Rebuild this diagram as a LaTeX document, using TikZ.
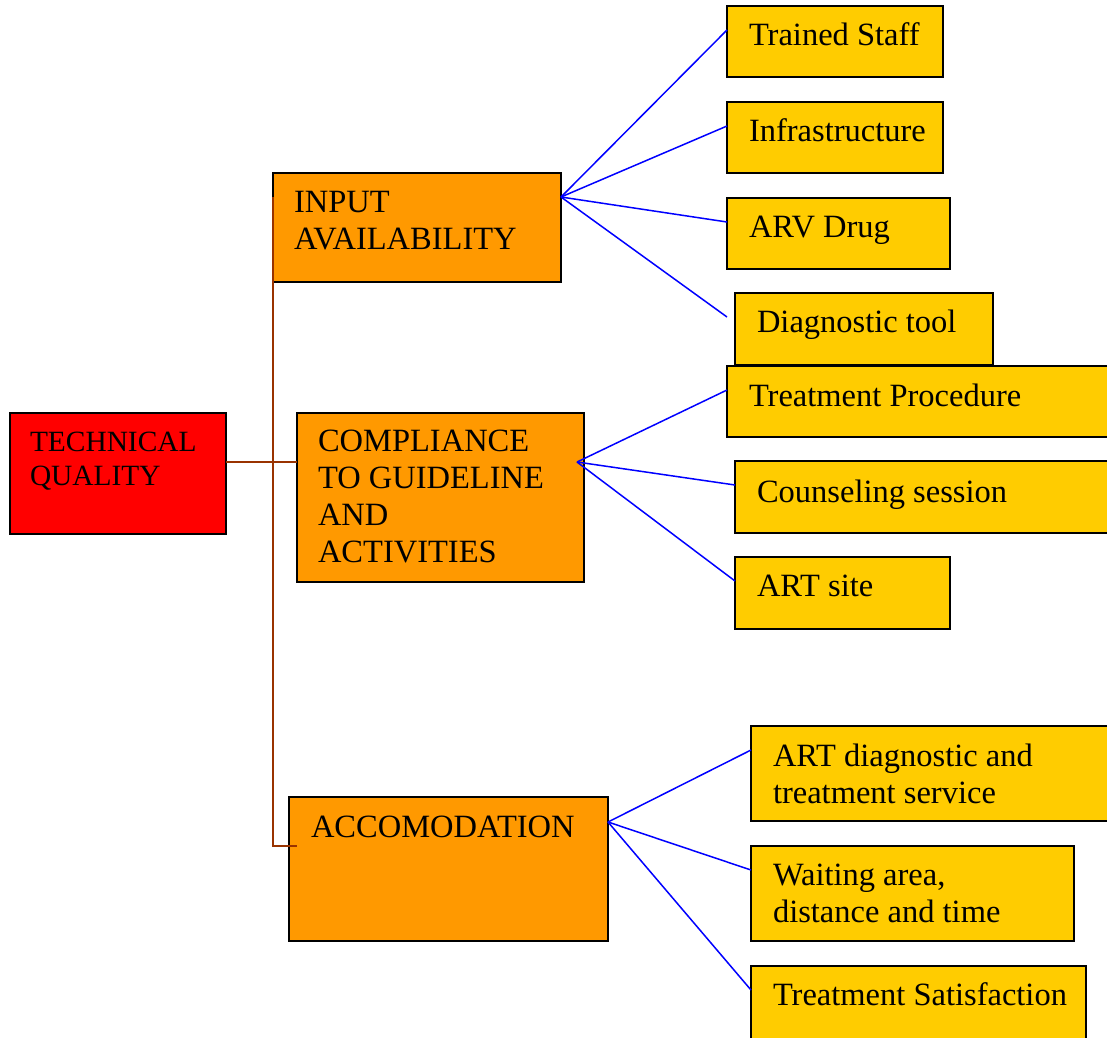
\documentclass[tikz,border=0pt]{standalone}
\usepackage{fontspec}
\setmainfont{Liberation Serif}
\definecolor{tqred}{HTML}{FF0000}
\definecolor{lvlorange}{HTML}{FF9900}
\definecolor{itemyellow}{HTML}{FFCC00}
\definecolor{trunkbrown}{HTML}{993300}
\definecolor{fanblue}{HTML}{0000FF}
\tikzset{
  box/.style={draw=black, line width=1.5pt, inner sep=0pt, outer sep=0pt, anchor=north west},
  rootbox/.style={box, fill=tqred},
  levelbox/.style={box, fill=lvlorange},
  itembox/.style={box, fill=itemyellow},
  lbl/.style={anchor=north west, inner sep=0pt, outer sep=0pt, align=left,
    font=\fontsize{32.5}{37}\selectfont},
  rootlbl/.style={lbl, font=\fontsize{29.4}{34}\selectfont},
  trunk/.style={draw=trunkbrown, line width=1.6pt},
  fan/.style={draw=fanblue, line width=1.5pt},
}
\begin{document}
\begin{tikzpicture}[x=1pt, y=-1pt]
\useasboundingbox (0,0) rectangle (1107,1037);
\clip (0,0) rectangle (1107,1037);

% root
\node[rootbox, minimum width=216pt, minimum height=121pt] (tq) at (10,413) {};
% second level
\node[levelbox, minimum width=288pt, minimum height=109pt] (inp) at (273,173) {};
\node[levelbox, minimum width=287pt, minimum height=169pt] (comp) at (297,413) {};
\node[levelbox, minimum width=319pt, minimum height=144pt] (acc) at (289,797) {};
% items
\node[itembox, minimum width=216pt, minimum height=71pt] (ts) at (727,6) {};
\node[itembox, minimum width=216pt, minimum height=71pt] (inf) at (727,102) {};
\node[itembox, minimum width=223pt, minimum height=71pt] (arv) at (727,198) {};
\node[itembox, minimum width=258pt, minimum height=72pt] (diag) at (735,293) {};
\node[itembox, minimum width=388pt, minimum height=71pt] (tp) at (727,366) {};
\node[itembox, minimum width=380pt, minimum height=72pt] (cs) at (735,461) {};
\node[itembox, minimum width=215pt, minimum height=72pt] (art) at (735,557) {};
\node[itembox, minimum width=364pt, minimum height=95pt] (artd) at (751,726) {};
\node[itembox, minimum width=323pt, minimum height=95pt] (wait) at (751,846) {};
\node[itembox, minimum width=335pt, minimum height=80pt] (tsat) at (751,966) {};

% labels
\node[rootlbl] (tq-t) at ([xshift=20pt, yshift=-19pt]tq.north west) {TECHNICAL\\QUALITY};
\node[lbl] (inp-t) at ([xshift=21pt, yshift=-18pt]inp.north west) {INPUT\\AVAILABILITY};
\node[lbl] (comp-t) at ([xshift=21pt, yshift=-17pt]comp.north west) {COMPLIANCE\\TO GUIDELINE\\AND\\ACTIVITIES};
\node[lbl] (acc-t) at ([xshift=22pt, yshift=-19pt]acc.north west) {ACCOMODATION};
\node[lbl] (ts-t) at ([xshift=22pt, yshift=-17pt]ts.north west) {Trained Staff};
\node[lbl] (inf-t) at ([xshift=22pt, yshift=-17pt]inf.north west) {Infrastructure};
\node[lbl] (arv-t) at ([xshift=22pt, yshift=-18pt]arv.north west) {ARV Drug};
\node[lbl] (diag-t) at ([xshift=22pt, yshift=-17pt]diag.north west) {Diagnostic tool};
\node[lbl] (tp-t) at ([xshift=22pt, yshift=-18pt]tp.north west) {Treatment Procedure};
\node[lbl] (cs-t) at ([xshift=22pt, yshift=-19pt]cs.north west) {Counseling session};
\node[lbl] (art-t) at ([xshift=22pt, yshift=-18pt]art.north west) {ART site};
\node[lbl] (artd-t) at ([xshift=22pt, yshift=-18pt]artd.north west) {ART diagnostic and\\treatment service};
\node[lbl] (wait-t) at ([xshift=22pt, yshift=-18pt]wait.north west) {Waiting area,\\distance and time};
\node[lbl] (tsat-t) at ([xshift=22pt, yshift=-17pt]tsat.north west) {Treatment Satisfaction};

% trunk connectors
\coordinate (trunktop) at ([yshift=-24pt]inp.north west);
\coordinate (compjoin) at ([yshift=-49pt]comp.north west);
\coordinate (accjoin) at ([xshift=8pt, yshift=-49pt]acc.north west);
\draw[trunk] (trunktop) |- (accjoin);
\draw[trunk] (tq.east |- compjoin) -- (compjoin);

% fan connectors
\coordinate (inpfan) at ([yshift=-24pt]inp.north east);
\coordinate (compfan) at ([xshift=-7pt, yshift=-49pt]comp.north east);
\coordinate (accfan) at ([yshift=-25pt]acc.north east);
\foreach \c in {ts, inf, arv}
  \draw[fan] (inpfan) -- ([yshift=-24pt]\c.north west);
\draw[fan] (inpfan) -- ([xshift=-8pt, yshift=-24pt]diag.north west);
\foreach \c in {tp, cs, art}
  \draw[fan] (compfan) -- ([yshift=-24pt]\c.north west);
\foreach \c in {artd, wait, tsat}
  \draw[fan] (accfan) -- ([yshift=-24pt]\c.north west);
\end{tikzpicture}
\end{document}
